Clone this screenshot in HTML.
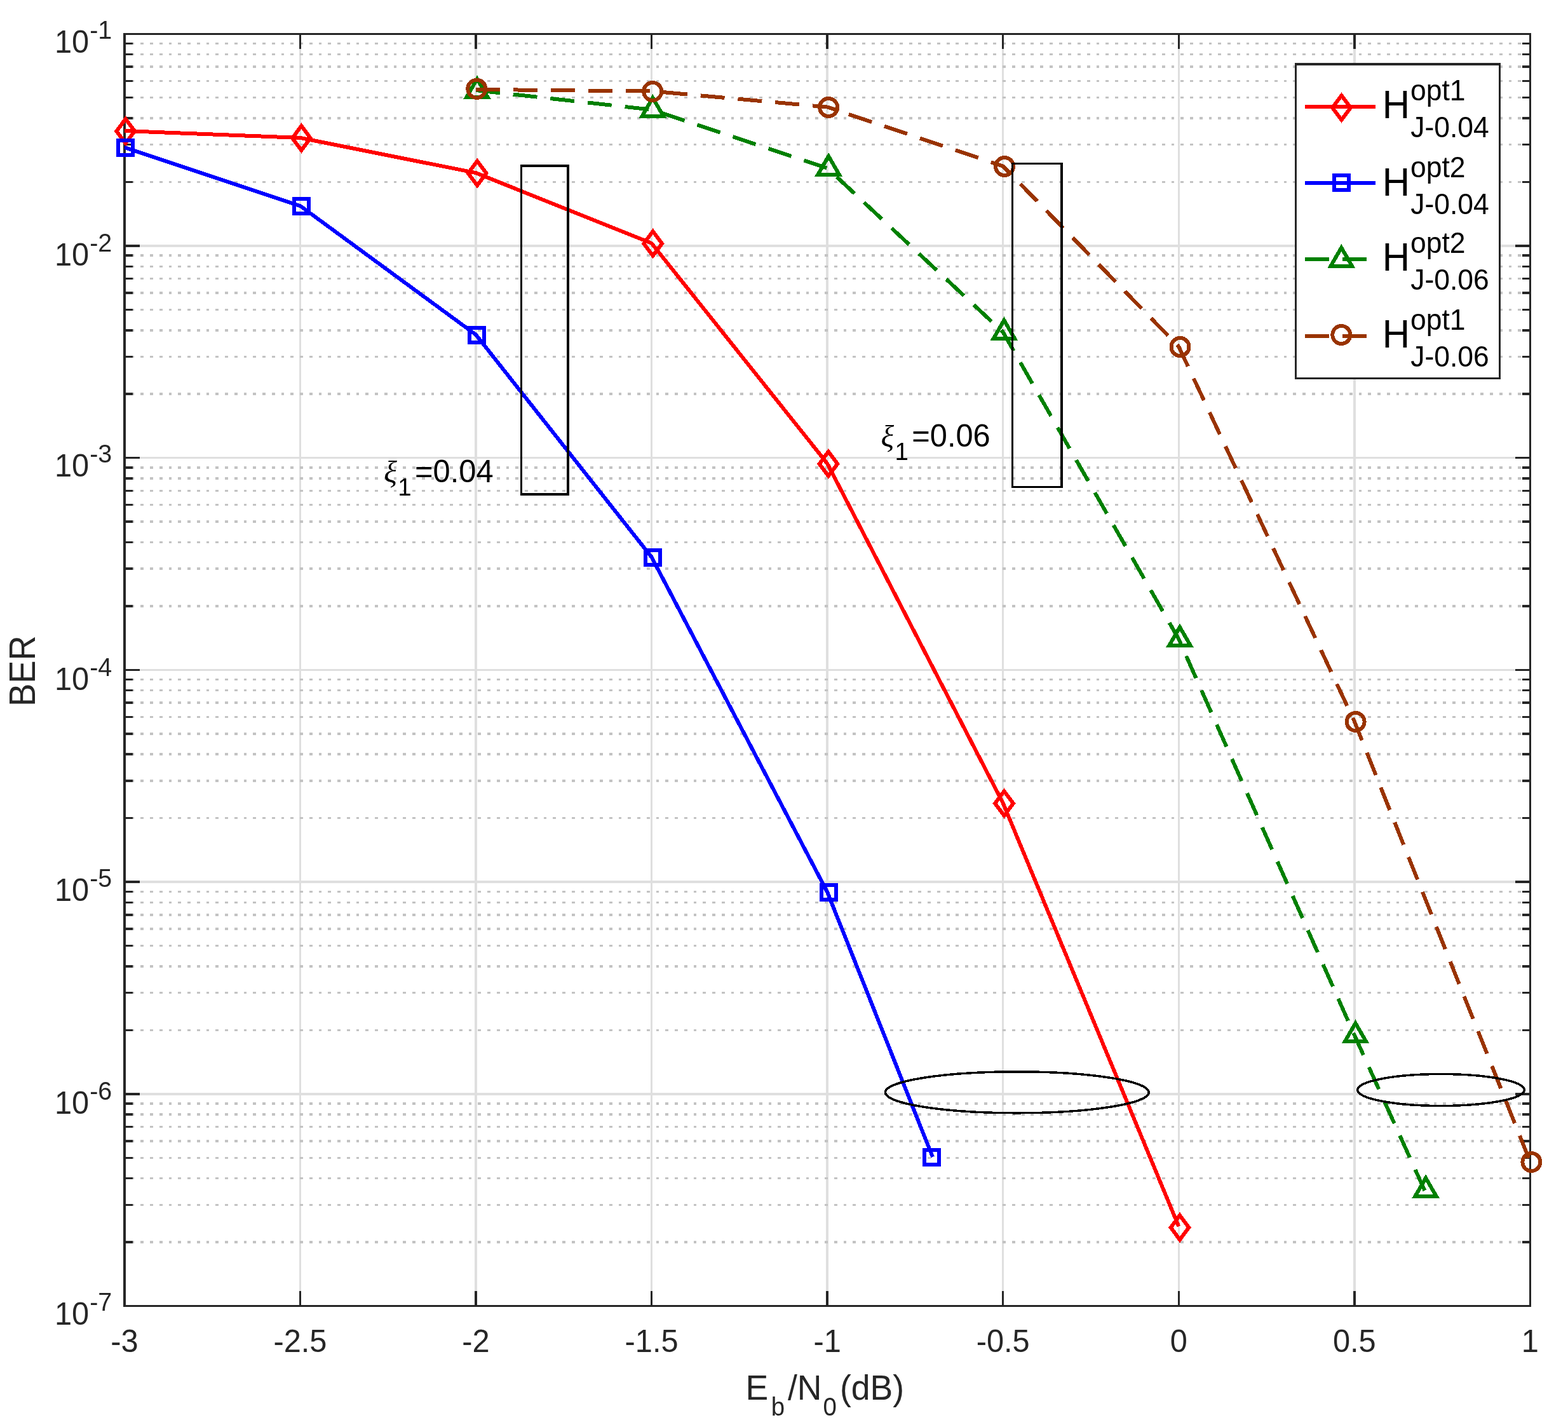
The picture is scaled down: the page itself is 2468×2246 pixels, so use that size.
<!DOCTYPE html>
<html lang="en"><head><meta charset="utf-8"><title>BER versus Eb/N0</title>
<style>html,body{margin:0;padding:0;background:#fff;}body{width:2468px;height:2246px;overflow:hidden;}svg{display:block;}text{font-family:"Liberation Sans",sans-serif;}.xi{font-family:"Liberation Serif",serif;font-style:italic;}</style></head><body>
<svg width="2468" height="2246" viewBox="0 0 2468 2246" shape-rendering="crispEdges">
<rect x="0" y="0" width="2468" height="2246" fill="#ffffff"/>
<g id="grid" fill="none">
<path d="M472.462 53.253V2055.513M749.025 53.253V2055.513M1025.588 53.253V2055.513M1302.15 53.253V2055.513M1578.713 53.253V2055.513M1855.275 53.253V2055.513M2131.838 53.253V2055.513" stroke="#dfdfdf" stroke-width="3.5"/>
<path d="M195.9 386.963H2408.4M195.9 720.673H2408.4M195.9 1054.383H2408.4M195.9 1388.093H2408.4M195.9 1721.803H2408.4" stroke="#dfdfdf" stroke-width="3.5"/>
<path d="M206.652 286.506H2408.4M206.652 227.743H2408.4M206.652 186.05H2408.4M206.652 153.71H2408.4M206.652 127.286H2408.4M206.652 104.945H2408.4M206.652 85.593H2408.4M206.652 68.523H2408.4M206.652 620.216H2408.4M206.652 561.453H2408.4M206.652 519.76H2408.4M206.652 487.42H2408.4M206.652 460.996H2408.4M206.652 438.655H2408.4M206.652 419.303H2408.4M206.652 402.233H2408.4M206.652 953.926H2408.4M206.652 895.163H2408.4M206.652 853.47H2408.4M206.652 821.13H2408.4M206.652 794.706H2408.4M206.652 772.365H2408.4M206.652 753.013H2408.4M206.652 735.943H2408.4M206.652 1287.636H2408.4M206.652 1228.873H2408.4M206.652 1187.18H2408.4M206.652 1154.84H2408.4M206.652 1128.416H2408.4M206.652 1106.075H2408.4M206.652 1086.723H2408.4M206.652 1069.653H2408.4M206.652 1621.346H2408.4M206.652 1562.583H2408.4M206.652 1520.89H2408.4M206.652 1488.55H2408.4M206.652 1462.126H2408.4M206.652 1439.785H2408.4M206.652 1420.433H2408.4M206.652 1403.363H2408.4M206.652 1955.056H2408.4M206.652 1896.293H2408.4M206.652 1854.6H2408.4M206.652 1822.26H2408.4M206.652 1795.836H2408.4M206.652 1773.495H2408.4M206.652 1754.143H2408.4M206.652 1737.073H2408.4" stroke="#c3c3c3" stroke-width="3.5" stroke-dasharray="4.8 9.948"/>
</g>
<g id="axes" fill="none" stroke="#262626">
<path d="M472.462 2055.513V2031.663M472.462 53.253V77.103M749.025 2055.513V2031.663M749.025 53.253V77.103M1025.588 2055.513V2031.663M1025.588 53.253V77.103M1302.15 2055.513V2031.663M1302.15 53.253V77.103M1578.713 2055.513V2031.663M1578.713 53.253V77.103M1855.275 2055.513V2031.663M1855.275 53.253V77.103M2131.838 2055.513V2031.663M2131.838 53.253V77.103" stroke-width="3.5"/>
<path d="M195.9 386.963H219.75M2408.4 386.963H2384.55M195.9 720.673H219.75M2408.4 720.673H2384.55M195.9 1054.383H219.75M2408.4 1054.383H2384.55M195.9 1388.093H219.75M2408.4 1388.093H2384.55M195.9 1721.803H219.75M2408.4 1721.803H2384.55" stroke-width="3.5"/>
<path d="M195.9 286.506H208.7M2408.4 286.506H2395.6M195.9 227.743H208.7M2408.4 227.743H2395.6M195.9 186.05H208.7M2408.4 186.05H2395.6M195.9 153.71H208.7M2408.4 153.71H2395.6M195.9 127.286H208.7M2408.4 127.286H2395.6M195.9 104.945H208.7M2408.4 104.945H2395.6M195.9 85.593H208.7M2408.4 85.593H2395.6M195.9 68.523H208.7M2408.4 68.523H2395.6M195.9 620.216H208.7M2408.4 620.216H2395.6M195.9 561.453H208.7M2408.4 561.453H2395.6M195.9 519.76H208.7M2408.4 519.76H2395.6M195.9 487.42H208.7M2408.4 487.42H2395.6M195.9 460.996H208.7M2408.4 460.996H2395.6M195.9 438.655H208.7M2408.4 438.655H2395.6M195.9 419.303H208.7M2408.4 419.303H2395.6M195.9 402.233H208.7M2408.4 402.233H2395.6M195.9 953.926H208.7M2408.4 953.926H2395.6M195.9 895.163H208.7M2408.4 895.163H2395.6M195.9 853.47H208.7M2408.4 853.47H2395.6M195.9 821.13H208.7M2408.4 821.13H2395.6M195.9 794.706H208.7M2408.4 794.706H2395.6M195.9 772.365H208.7M2408.4 772.365H2395.6M195.9 753.013H208.7M2408.4 753.013H2395.6M195.9 735.943H208.7M2408.4 735.943H2395.6M195.9 1287.636H208.7M2408.4 1287.636H2395.6M195.9 1228.873H208.7M2408.4 1228.873H2395.6M195.9 1187.18H208.7M2408.4 1187.18H2395.6M195.9 1154.84H208.7M2408.4 1154.84H2395.6M195.9 1128.416H208.7M2408.4 1128.416H2395.6M195.9 1106.075H208.7M2408.4 1106.075H2395.6M195.9 1086.723H208.7M2408.4 1086.723H2395.6M195.9 1069.653H208.7M2408.4 1069.653H2395.6M195.9 1621.346H208.7M2408.4 1621.346H2395.6M195.9 1562.583H208.7M2408.4 1562.583H2395.6M195.9 1520.89H208.7M2408.4 1520.89H2395.6M195.9 1488.55H208.7M2408.4 1488.55H2395.6M195.9 1462.126H208.7M2408.4 1462.126H2395.6M195.9 1439.785H208.7M2408.4 1439.785H2395.6M195.9 1420.433H208.7M2408.4 1420.433H2395.6M195.9 1403.363H208.7M2408.4 1403.363H2395.6M195.9 1955.056H208.7M2408.4 1955.056H2395.6M195.9 1896.293H208.7M2408.4 1896.293H2395.6M195.9 1854.6H208.7M2408.4 1854.6H2395.6M195.9 1822.26H208.7M2408.4 1822.26H2395.6M195.9 1795.836H208.7M2408.4 1795.836H2395.6M195.9 1773.495H208.7M2408.4 1773.495H2395.6M195.9 1754.143H208.7M2408.4 1754.143H2395.6M195.9 1737.073H208.7M2408.4 1737.073H2395.6" stroke-width="3.5"/>
<rect x="195.9" y="53.253" width="2212.5" height="2002.26" stroke-width="3.5"/>
</g>
<defs><clipPath id="ax"><rect x="195.6" y="53.253" width="2212.8" height="2002.26"/></clipPath></defs>
<g id="series">
<polyline points="195.9,206 472.462,216.95 749.025,272.1 1025.588,382.9 1302.15,729.6 1578.713,1264 1855.3,1930.3" fill="none" stroke="#ff0000" stroke-width="6" stroke-linejoin="round" clip-path="url(#ax)"/>
<path d="M197.7 187.2L212 206.4L197.7 225.6L183.4 206.4Z" fill="none" stroke="#ff0000" stroke-width="6" stroke-linejoin="miter" stroke-miterlimit="10"/>
<path d="M474.4 198.25L488.7 217.45L474.4 236.65L460.1 217.45Z" fill="none" stroke="#ff0000" stroke-width="6" stroke-linejoin="miter" stroke-miterlimit="10"/>
<path d="M751.1 253.4L765.4 272.6L751.1 291.8L736.8 272.6Z" fill="none" stroke="#ff0000" stroke-width="6" stroke-linejoin="miter" stroke-miterlimit="10"/>
<path d="M1027.65 364.2L1041.95 383.4L1027.65 402.6L1013.35 383.4Z" fill="none" stroke="#ff0000" stroke-width="6" stroke-linejoin="miter" stroke-miterlimit="10"/>
<path d="M1303.9 710.9L1318.2 730.1L1303.9 749.3L1289.6 730.1Z" fill="none" stroke="#ff0000" stroke-width="6" stroke-linejoin="miter" stroke-miterlimit="10"/>
<path d="M1580.5 1245.3L1594.8 1264.5L1580.5 1283.7L1566.2 1264.5Z" fill="none" stroke="#ff0000" stroke-width="6" stroke-linejoin="miter" stroke-miterlimit="10"/>
<path d="M1857 1912.8L1871.3 1932L1857 1951.2L1842.7 1932Z" fill="none" stroke="#ff0000" stroke-width="6" stroke-linejoin="miter" stroke-miterlimit="10"/>
<polyline points="195.9,231.9 472.462,324 749.025,526.8 1025.588,876.9 1302.15,1404 1468,1821.1" fill="none" stroke="#0000ff" stroke-width="6" stroke-linejoin="round" clip-path="url(#ax)"/>
<rect x="186.45" y="220.9" width="23" height="23" fill="none" stroke="#0000ff" stroke-width="6"/>
<rect x="463" y="313" width="23" height="23" fill="none" stroke="#0000ff" stroke-width="6"/>
<rect x="739.4" y="515.8" width="23" height="23" fill="none" stroke="#0000ff" stroke-width="6"/>
<rect x="1015.9" y="865.9" width="23" height="23" fill="none" stroke="#0000ff" stroke-width="6"/>
<rect x="1293" y="1393" width="23" height="23" fill="none" stroke="#0000ff" stroke-width="6"/>
<rect x="1455" y="1809.9" width="23" height="23" fill="none" stroke="#0000ff" stroke-width="6"/>
<polyline points="749.025,142 1025.588,172.7 1302.15,264.6 1578.713,522.8 1855.275,1005.8 2131.838,1629.2 2242.4,1873.7" fill="none" stroke="#008000" stroke-width="6" stroke-linejoin="round" stroke-dasharray="38 21" clip-path="url(#ax)"/>
<path d="M751 124.2L767.714 153.15L734.286 153.15Z" fill="none" stroke="#008000" stroke-width="6" stroke-linejoin="miter" stroke-miterlimit="10"/>
<path d="M1027.4 153.9L1044.114 182.85L1010.686 182.85Z" fill="none" stroke="#008000" stroke-width="6" stroke-linejoin="miter" stroke-miterlimit="10"/>
<path d="M1304.1 245.8L1320.814 274.75L1287.386 274.75Z" fill="none" stroke="#008000" stroke-width="6" stroke-linejoin="miter" stroke-miterlimit="10"/>
<path d="M1580.4 504L1597.114 532.95L1563.686 532.95Z" fill="none" stroke="#008000" stroke-width="6" stroke-linejoin="miter" stroke-miterlimit="10"/>
<path d="M1857 987L1873.714 1015.95L1840.286 1015.95Z" fill="none" stroke="#008000" stroke-width="6" stroke-linejoin="miter" stroke-miterlimit="10"/>
<path d="M2133.5 1610.4L2150.214 1639.35L2116.786 1639.35Z" fill="none" stroke="#008000" stroke-width="6" stroke-linejoin="miter" stroke-miterlimit="10"/>
<path d="M2244.1 1854L2260.814 1882.95L2227.386 1882.95Z" fill="none" stroke="#008000" stroke-width="6" stroke-linejoin="miter" stroke-miterlimit="10"/>
<polyline points="749.025,140.9 1025.588,143.45 1302.15,168.5 1578.713,261.5 1855.275,545.5 2131.838,1135.5 2408.4,1828.5" fill="none" stroke="#993300" stroke-width="6" stroke-linejoin="round" stroke-dasharray="38 21" clip-path="url(#ax)"/>
<circle cx="750.3" cy="139.8" r="14" fill="none" stroke="#993300" stroke-width="6"/>
<circle cx="1027.2" cy="143.95" r="14" fill="none" stroke="#993300" stroke-width="6"/>
<circle cx="1304.2" cy="169" r="14" fill="none" stroke="#993300" stroke-width="6"/>
<circle cx="1581.1" cy="262" r="14" fill="none" stroke="#993300" stroke-width="6"/>
<circle cx="1857.5" cy="546" r="14" fill="none" stroke="#993300" stroke-width="6"/>
<circle cx="2133.6" cy="1136" r="14" fill="none" stroke="#993300" stroke-width="6"/>
<circle cx="2410.4" cy="1829" r="14" fill="none" stroke="#993300" stroke-width="6"/>
</g>
<g id="ticklabels">
<text transform="scale(1 1.01)" font-size="48.8" fill="#262626"><tspan x="86" y="82.376">10</tspan><tspan x="141.2" y="60.297" font-size="39.5">-1</tspan></text>
<text transform="scale(1 1.01)" font-size="48.8" fill="#262626"><tspan x="86" y="414.158">10</tspan><tspan x="141.2" y="392.079" font-size="39.5">-2</tspan></text>
<text transform="scale(1 1.01)" font-size="48.8" fill="#262626"><tspan x="86" y="742.871">10</tspan><tspan x="141.2" y="720.792" font-size="39.5">-3</tspan></text>
<text transform="scale(1 1.01)" font-size="48.8" fill="#262626"><tspan x="86" y="1075.644">10</tspan><tspan x="141.2" y="1053.564" font-size="39.5">-4</tspan></text>
<text transform="scale(1 1.01)" font-size="48.8" fill="#262626"><tspan x="86" y="1404.257">10</tspan><tspan x="141.2" y="1382.178" font-size="39.5">-5</tspan></text>
<text transform="scale(1 1.01)" font-size="48.8" fill="#262626"><tspan x="86" y="1735.941">10</tspan><tspan x="141.2" y="1713.861" font-size="39.5">-6</tspan></text>
<text transform="scale(1 1.01)" font-size="48.8" fill="#262626"><tspan x="86" y="2064.653">10</tspan><tspan x="141.2" y="2042.574" font-size="39.5">-7</tspan></text>
<text transform="translate(195.9 2127.6) scale(1 1.01)" font-size="48.8" fill="#262626" text-anchor="middle">-3</text>
<text transform="translate(472.462 2127.6) scale(1 1.01)" font-size="48.8" fill="#262626" text-anchor="middle">-2.5</text>
<text transform="translate(749.025 2127.6) scale(1 1.01)" font-size="48.8" fill="#262626" text-anchor="middle">-2</text>
<text transform="translate(1025.588 2127.6) scale(1 1.01)" font-size="48.8" fill="#262626" text-anchor="middle">-1.5</text>
<text transform="translate(1302.15 2127.6) scale(1 1.01)" font-size="48.8" fill="#262626" text-anchor="middle">-1</text>
<text transform="translate(1578.713 2127.6) scale(1 1.01)" font-size="48.8" fill="#262626" text-anchor="middle">-0.5</text>
<text transform="translate(1855.275 2127.6) scale(1 1.01)" font-size="48.8" fill="#262626" text-anchor="middle">0</text>
<text transform="translate(2131.838 2127.6) scale(1 1.01)" font-size="48.8" fill="#262626" text-anchor="middle">0.5</text>
<text transform="translate(2408.4 2127.6) scale(1 1.01)" font-size="48.8" fill="#262626" text-anchor="middle">1</text>
</g>
<g id="axislabels">
<text transform="translate(55.2 1056.2) rotate(-90) scale(1 1.045)" font-size="54.4" fill="#262626" text-anchor="middle">BER</text>
<text transform="scale(1 1.04)" font-size="53.5" fill="#262626"><tspan x="1173.6" y="2118.462">E</tspan><tspan x="1213.7" y="2142.5" font-size="38.5">b</tspan><tspan x="1240" y="2118.462">/N</tspan><tspan x="1295.5" y="2142.692" font-size="38.5">0</tspan><tspan x="1322" y="2118.462">(dB)</tspan></text>
</g>
<g id="legend">
<rect x="2039.5" y="101" width="321" height="494.5" fill="#ffffff" stroke="#262626" stroke-width="3.5"/>
<path d="M2053.9 168H2165" fill="none" stroke="#ff0000" stroke-width="6"/>
<path d="M2111.5 150.3L2125.8 169.5L2111.5 188.7L2097.2 169.5Z" fill="none" stroke="#ff0000" stroke-width="6" stroke-linejoin="miter" stroke-miterlimit="10"/>
<text transform="scale(1 1.035)" font-size="60" fill="#000000"><tspan x="2175.8" y="179.614">H</tspan><tspan x="2220" y="152.367" font-size="44.5">opt1</tspan><tspan x="2220.2" y="208.502" font-size="44.5">J-0.04</tspan></text>
<path d="M2053.9 287.9H2165" fill="none" stroke="#0000ff" stroke-width="6"/>
<rect x="2099.9" y="275.9" width="23" height="23" fill="none" stroke="#0000ff" stroke-width="6"/>
<text transform="scale(1 1.035)" font-size="60" fill="#000000"><tspan x="2175.8" y="297.681">H</tspan><tspan x="2220" y="269.372" font-size="44.5">opt2</tspan><tspan x="2220.2" y="325.507" font-size="44.5">J-0.04</tspan></text>
<path d="M2053.9 408.1H2165" fill="none" stroke="#008000" stroke-width="6" stroke-dasharray="38 21"/>
<path d="M2111.3 389.8L2128.014 418.75L2094.586 418.75Z" fill="none" stroke="#008000" stroke-width="6" stroke-linejoin="miter" stroke-miterlimit="10"/>
<text transform="scale(1 1.035)" font-size="60" fill="#000000"><tspan x="2175.8" y="411.691">H</tspan><tspan x="2220" y="384.444" font-size="44.5">opt2</tspan><tspan x="2220.2" y="440.58" font-size="44.5">J-0.06</tspan></text>
<path d="M2053.9 529H2165" fill="none" stroke="#993300" stroke-width="6" stroke-dasharray="38 21"/>
<circle cx="2111.3" cy="527" r="14" fill="none" stroke="#993300" stroke-width="6"/>
<text transform="scale(1 1.035)" font-size="60" fill="#000000"><tspan x="2175.8" y="528.309">H</tspan><tspan x="2220" y="501.063" font-size="44.5">opt1</tspan><tspan x="2220.2" y="557.198" font-size="44.5">J-0.06</tspan></text>
</g>
<g id="annotations" fill="none" stroke="#000000" stroke-width="3.5">
<rect x="820.5" y="261" width="73.5" height="516.8"/>
<rect x="1593.5" y="257.5" width="77.7" height="509"/>
<ellipse cx="1600.8" cy="1719.3" rx="207.4" ry="32.5"/>
<ellipse cx="2268" cy="1715.5" rx="131.4" ry="25"/>
</g>
<g id="annotext">
<text transform="scale(1 1.01)" font-size="48.068" fill="#000000"><tspan x="604.3" y="751.089" class="xi">ξ</tspan><tspan x="626.3" y="771.881" font-size="38.5">1</tspan><tspan x="653.1" y="751.188" font-size="48.8">=0.04</tspan></text>
<text transform="scale(1 1.01)" font-size="48.068" fill="#000000"><tspan x="1386.5" y="696.04" class="xi">ξ</tspan><tspan x="1408.5" y="716.832" font-size="38.5">1</tspan><tspan x="1435.3" y="696.139" font-size="48.8">=0.06</tspan></text>
</g>
</svg></body></html>
